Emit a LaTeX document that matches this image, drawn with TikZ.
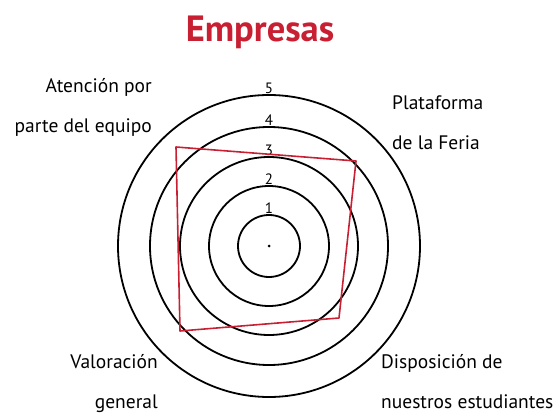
\documentclass[tikz,border=0pt]{standalone}
\usepackage{fontspec}
\setmainfont{PT Sans}
\usetikzlibrary{positioning}
\definecolor{empred}{RGB}{200,32,50}

\begin{document}
\begin{tikzpicture}[x=1pt,y=1pt,
      ring/.style={circle, draw=black, line width=1.8pt, inner sep=0pt},
      num/.style={font=\fontsize{15}{15}\selectfont, inner sep=0.5pt},
      etiq/.style={font=\fontsize{19.5}{40}\selectfont, inner sep=0pt},
      poly/.style={draw=empred, line width=1.6pt, line join=round}]
\useasboundingbox (-269,-166) rectangle (287,246);

\node[text=empred, font=\fontsize{36.5}{36.5}\selectfont\bfseries, anchor=base] (titulo) at (-9,204) {Empresas};

% anillos
\node[ring, minimum size=62pt] (r1) at (0,0) {};
\node[ring, minimum size=120pt] (r2) at (0,0) {};
\node[ring, minimum size=178pt] (r3) at (0,0) {};
\node[ring, minimum size=238pt] (r4) at (0,0) {};
\node[ring, minimum size=302pt] (r5) at (0,0) {};
\node[circle, fill=black, inner sep=0pt, minimum size=3pt] (centro) at (0,0) {};

\node[num, above=0pt of r1.north] (n1) {1};
\node[num, above=0pt of r2.north] (n2) {2};
\node[num, above=0pt of r3.north] (n3) {3};
\node[num, above=0pt of r4.north] (n4) {4};
\node[num, above=0pt of r5.north] (n5) {5};

% valores
\coordinate (atencion) at (-93,99);
\coordinate (plataforma) at (87,85);
\coordinate (disposicion) at (70,-72);
\coordinate (valoracion) at (-89,-85);
\draw[poly] (atencion) -- (plataforma) -- (disposicion) -- (valoracion) -- cycle;

% etiquetas
\node[etiq, align=right, anchor=base east] (lat) at (-117,113) {Atención por\\parte del equipo};
\node[etiq, align=left, anchor=base west] (lpf) at (123,96) {Plataforma\\de la Feria};
\node[etiq, align=right, anchor=base east] (lvg) at (-111,-162) {Valoración\\general};
\node[etiq, align=left, anchor=base west] (lde) at (112,-162) {Disposición de\\nuestros estudiantes};

\end{tikzpicture}
\end{document}
